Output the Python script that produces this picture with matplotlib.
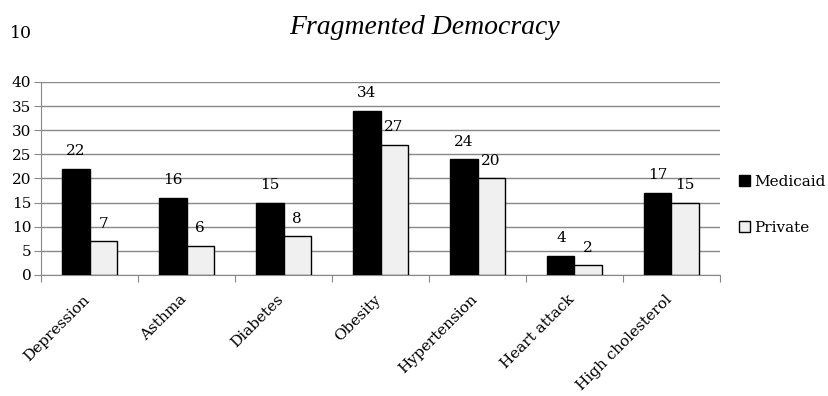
import numpy as np
from matplotlib import pyplot as plt
from matplotlib.patches import Patch

conditions = ['Depression', 'Asthma', 'Diabetes', 'Obesity', 'Hypertension',
              'Heart attack', 'High cholesterol']
medicaid = [22, 16, 15, 34, 24, 4, 17]
private = [7, 6, 8, 27, 20, 2, 15]
series_names = ['Medicaid', 'Private']
yticks = [0, 5, 10, 15, 20, 25, 30, 35, 40]

plt.rcParams['font.family'] = ['DejaVu Serif']
fs = 11

fig = plt.figure(figsize=(8.29, 3.96), dpi=100)
ax = fig.add_axes([0.0495, 0.3056, 0.819, 0.4874])

x = np.arange(len(conditions))
w = 0.28
b1 = ax.bar(x - w/2, medicaid, w, color='black', edgecolor='black', linewidth=1, zorder=3)
b2 = ax.bar(x + w/2, private, w, color='#f0f0f0', edgecolor='black', linewidth=1, zorder=3)

for rect, v in zip(b1, medicaid):
    ax.text(rect.get_x() + rect.get_width()/2, v + 2.2, str(v), ha='center', va='bottom', fontsize=fs)
for rect, v in zip(b2, private):
    ax.text(rect.get_x() + rect.get_width()/2, v + 2.2, str(v), ha='center', va='bottom', fontsize=fs)

ax.set_xlim(-0.5, len(conditions) - 0.5)
ax.set_ylim(0, 40)
ax.set_yticks(yticks)
ax.set_yticklabels([str(t) for t in yticks], fontsize=fs)
ax.yaxis.grid(True, color='#888888', linewidth=1, zorder=0)
ax.set_axisbelow(True)

ax.set_xticks(np.arange(len(conditions) + 1) - 0.5)
ax.set_xticklabels([])
ax.tick_params(axis='x', length=5, color='#888888')
ax.tick_params(axis='y', length=5, color='#888888', pad=2)
for c, name in zip(x, conditions):
    ax.text(c - 0.07, -3.6, name, rotation=45, ha='right', va='top', rotation_mode='anchor',
            fontsize=fs)

for s in ['top', 'right']:
    ax.spines[s].set_visible(False)
for s in ['left', 'bottom']:
    ax.spines[s].set_color('#888888')

handles = [Patch(facecolor='black', edgecolor='black'),
           Patch(facecolor='#f0f0f0', edgecolor='black')]
fig.legend(handles, series_names, loc='center left', bbox_to_anchor=(0.892, 0.482),
           frameon=False, fontsize=fs, handlelength=0.7, handleheight=0.7,
           handletextpad=0.25, labelspacing=2.1, borderaxespad=0, borderpad=0)

fig.text(0.012, 0.905, '10', fontsize=12.5)
fig.text(0.512, 0.915, 'Fragmented Democracy', fontsize=20, style='italic', ha='center',
         family='Liberation Serif')

fig.savefig('out.png', dpi=100)
